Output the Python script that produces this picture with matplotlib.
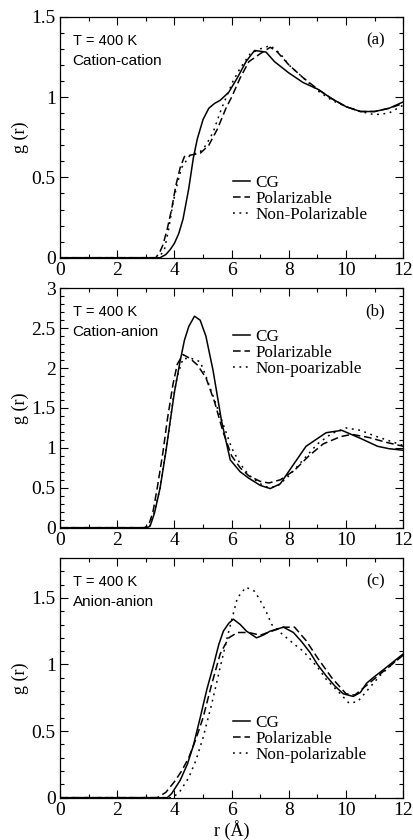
import numpy as np
import matplotlib
matplotlib.use("Agg")
import matplotlib.pyplot as plt

# (a) cation-cation
a_cg_r = [0, 3.5, 3.7, 3.85, 4.0, 4.15, 4.3, 4.5, 4.66, 4.8, 5.0, 5.2, 5.4, 5.6, 5.9, 6.2, 6.5, 6.8, 7.2, 7.5, 8.0, 8.5, 9.0, 9.5, 10.0, 10.5, 11.0, 11.5, 12.0]
a_cg_g = [0, 0.0, 0.02, 0.05, 0.09, 0.15, 0.24, 0.43, 0.62, 0.74, 0.86, 0.93, 0.96, 0.98, 1.03, 1.12, 1.22, 1.29, 1.28, 1.22, 1.15, 1.09, 1.05, 0.99, 0.94, 0.91, 0.91, 0.93, 0.97]
a_pol_r = [0, 3.35, 3.5, 3.6, 3.75, 3.9, 4.05, 4.2, 4.35, 4.6, 4.9, 5.2, 5.5, 5.8, 6.0, 6.3, 6.6, 7.0, 7.35, 7.6, 8.0, 8.5, 9.0, 9.5, 10.0, 10.5, 11.0, 11.5, 12.0]
a_pol_g = [0, 0.0, 0.04, 0.08, 0.18, 0.3, 0.45, 0.56, 0.63, 0.64, 0.65, 0.7, 0.8, 0.93, 1.0, 1.12, 1.22, 1.27, 1.31, 1.28, 1.2, 1.12, 1.05, 0.99, 0.94, 0.91, 0.91, 0.93, 0.96]
a_npol_r = [0, 3.45, 3.65, 3.8, 3.95, 4.1, 4.25, 4.55, 4.9, 5.1, 5.35, 5.65, 6.05, 6.3, 6.65, 7.0, 7.35, 7.7, 8.0, 8.5, 9.0, 9.5, 10.0, 10.5, 11.0, 11.5, 12.0]
a_npol_g = [0, 0.0, 0.05, 0.18, 0.34, 0.46, 0.56, 0.64, 0.66, 0.7, 0.78, 0.93, 1.1, 1.18, 1.27, 1.3, 1.32, 1.27, 1.2, 1.12, 1.04, 0.98, 0.94, 0.91, 0.89, 0.9, 0.95]

# (b) cation-anion
b_cg_r = [0, 3.05, 3.15, 3.3, 3.5, 3.7, 3.85, 4.0, 4.2, 4.35, 4.5, 4.7, 4.9, 5.1, 5.35, 5.65, 5.95, 6.3, 6.6, 7.0, 7.35, 7.7, 8.1, 8.6, 9.3, 9.85, 10.5, 11.1, 11.5, 12.0]
b_cg_g = [0, 0.0, 0.02, 0.18, 0.5, 0.95, 1.33, 1.7, 2.09, 2.35, 2.52, 2.65, 2.6, 2.4, 1.97, 1.33, 0.85, 0.7, 0.62, 0.53, 0.49, 0.55, 0.76, 1.02, 1.19, 1.22, 1.12, 1.02, 0.99, 0.97]
b_pol_r = [0, 2.95, 3.1, 3.25, 3.4, 3.6, 3.75, 3.95, 4.1, 4.3, 4.55, 4.8, 5.1, 5.4, 5.7, 6.0, 6.3, 6.6, 7.0, 7.3, 7.7, 8.2, 8.7, 9.2, 9.8, 10.2, 10.8, 11.4, 12.0]
b_pol_g = [0, 0.0, 0.03, 0.2, 0.5, 0.95, 1.35, 1.8, 2.05, 2.17, 2.12, 2.04, 1.88, 1.58, 1.2, 0.9, 0.75, 0.65, 0.58, 0.56, 0.6, 0.72, 0.9, 1.05, 1.14, 1.17, 1.13, 1.07, 1.02]
b_npol_r = [0, 3.0, 3.15, 3.3, 3.5, 3.65, 3.8, 3.95, 4.1, 4.3, 4.6, 4.9, 5.1, 5.4, 5.7, 6.0, 6.3, 6.6, 7.0, 7.3, 7.6, 8.0, 8.5, 9.0, 9.5, 10.0, 10.5, 11.0, 11.5, 12.0]
b_npol_g = [0, 0.0, 0.03, 0.2, 0.5, 0.85, 1.2, 1.6, 1.9, 2.12, 2.12, 2.08, 1.9, 1.6, 1.3, 1.0, 0.8, 0.66, 0.55, 0.5, 0.52, 0.65, 0.85, 1.05, 1.18, 1.25, 1.22, 1.15, 1.09, 1.03]

# (c) anion-anion
c_cg_r = [0, 3.75, 3.9, 4.05, 4.2, 4.45, 4.66, 4.9, 5.13, 5.36, 5.55, 5.71, 5.9, 6.06, 6.3, 6.52, 6.87, 7.1, 7.34, 7.81, 8.16, 8.45, 8.74, 9.0, 9.32, 9.6, 9.9, 10.25, 10.5, 10.72, 11.0, 11.3, 11.65, 12.0]
c_cg_g = [0, 0.0, 0.03, 0.08, 0.13, 0.25, 0.39, 0.6, 0.81, 0.99, 1.15, 1.25, 1.31, 1.34, 1.3, 1.25, 1.2, 1.22, 1.25, 1.28, 1.24, 1.17, 1.09, 1.0, 0.91, 0.84, 0.78, 0.76, 0.79, 0.86, 0.91, 0.96, 1.02, 1.08]
c_pol_r = [0, 3.4, 3.7, 4.0, 4.25, 4.5, 4.75, 5.0, 5.3, 5.6, 5.9, 6.2, 6.6, 7.0, 7.4, 7.8, 8.2, 8.6, 9.0, 9.5, 10.0, 10.3, 10.7, 11.2, 11.6, 12.0]
c_pol_g = [0, 0.0, 0.04, 0.12, 0.2, 0.3, 0.44, 0.6, 0.85, 1.08, 1.2, 1.24, 1.24, 1.22, 1.25, 1.28, 1.28, 1.18, 1.05, 0.9, 0.78, 0.77, 0.84, 0.93, 1.0, 1.07]
c_npol_r = [0, 3.9, 4.05, 4.2, 4.5, 4.75, 5.0, 5.3, 5.6, 5.9, 6.2, 6.5, 6.8, 7.0, 7.2, 7.4, 7.7, 8.2, 8.5, 9.0, 9.3, 9.8, 10.1, 10.4, 10.8, 11.2, 11.6, 12.0]
c_npol_g = [0, 0.0, 0.02, 0.05, 0.15, 0.28, 0.45, 0.7, 0.98, 1.25, 1.5, 1.58, 1.55, 1.48, 1.4, 1.3, 1.24, 1.15, 1.1, 0.98, 0.89, 0.78, 0.71, 0.72, 0.82, 0.92, 1.0, 1.08]

panels = [
    ("(a)", "Cation-cation", (a_cg_r, a_cg_g), (a_pol_r, a_pol_g), (a_npol_r, a_npol_g),
     "Non-Polarizable", 1.5, [0, 0.5, 1, 1.5], ["0", "0.5", "1", "1.5"], 0.342),
    ("(b)", "Cation-anion", (b_cg_r, b_cg_g), (b_pol_r, b_pol_g), (b_npol_r, b_npol_g),
     "Non-poarizable", 3.0, [0, 0.5, 1, 1.5, 2, 2.5, 3], ["0", "0.5", "1", "1.5", "2", "2.5", "3"], 0.83),
    ("(c)", "Anion-anion", (c_cg_r, c_cg_g), (c_pol_r, c_pol_g), (c_npol_r, c_npol_g),
     "Non-polarizable", 1.8, [0, 0.5, 1, 1.5], ["0", "0.5", "1", "1.5"], 0.344),
]

serif = "Liberation Serif"
sans = "Liberation Sans"

fig = plt.figure(figsize=(4.13, 8.4), dpi=100)
rects = [
    [0.1453, 0.6932, 0.8312, 0.2869],
    [0.1453, 0.3718, 0.8312, 0.2850],
    [0.1453, 0.0504, 0.8312, 0.2854],
]

for rect, p in zip(rects, panels):
    tag, pair, cg, pol, npol, nlab, ytop, yt, ytl, legy = p
    ax = fig.add_axes(rect)
    ax.plot(cg[0], cg[1], color="black", lw=1.1, label="CG")
    ax.plot(pol[0], pol[1], color="black", lw=1.1, dashes=(5, 2.5), label="Polarizable")
    ax.plot(npol[0], npol[1], color="black", lw=1.1, dashes=(1.2, 3), label=nlab)
    ax.set_xlim(0, 12)
    ax.set_ylim(0, ytop)
    ax.set_xticks([0, 2, 4, 6, 8, 10, 12])
    ax.set_xticks(np.arange(1, 12, 2), minor=True)
    ax.set_yticks(yt)
    ax.set_yticklabels(ytl)
    ax.set_yticks(np.arange(0, ytop + 0.001, 0.1), minor=True)
    ax.tick_params(which="both", direction="in", top=True, right=True, width=0.8)
    ax.tick_params(which="major", length=6, labelsize=14, pad=3)
    ax.tick_params(which="minor", length=3)
    for lab in ax.get_xticklabels() + ax.get_yticklabels():
        lab.set_family(serif)
    for s in ax.spines.values():
        s.set_linewidth(0.9)
    ax.set_ylabel("g (r)", family=serif, fontsize=13, labelpad=2)
    ax.text(0.037, 0.883, "T = 400 K", transform=ax.transAxes, family=sans, fontsize=10.5, va="baseline")
    ax.text(0.037, 0.80, pair, transform=ax.transAxes, family=sans, fontsize=11, va="baseline")
    ax.text(0.947, 0.886, tag, transform=ax.transAxes, family=serif, fontsize=12, va="baseline", ha="right")
    ax.legend(loc="upper left", bbox_to_anchor=(0.505, legy), frameon=False,
              prop={"family": serif, "size": 12.3}, handlelength=0.95, handletextpad=0.35,
              labelspacing=0.0, borderpad=0, borderaxespad=0)
    if tag == "(c)":
        ax.set_xlabel("r (Å)", family=serif, fontsize=13, labelpad=1)

fig.savefig("out.png", dpi=100)
